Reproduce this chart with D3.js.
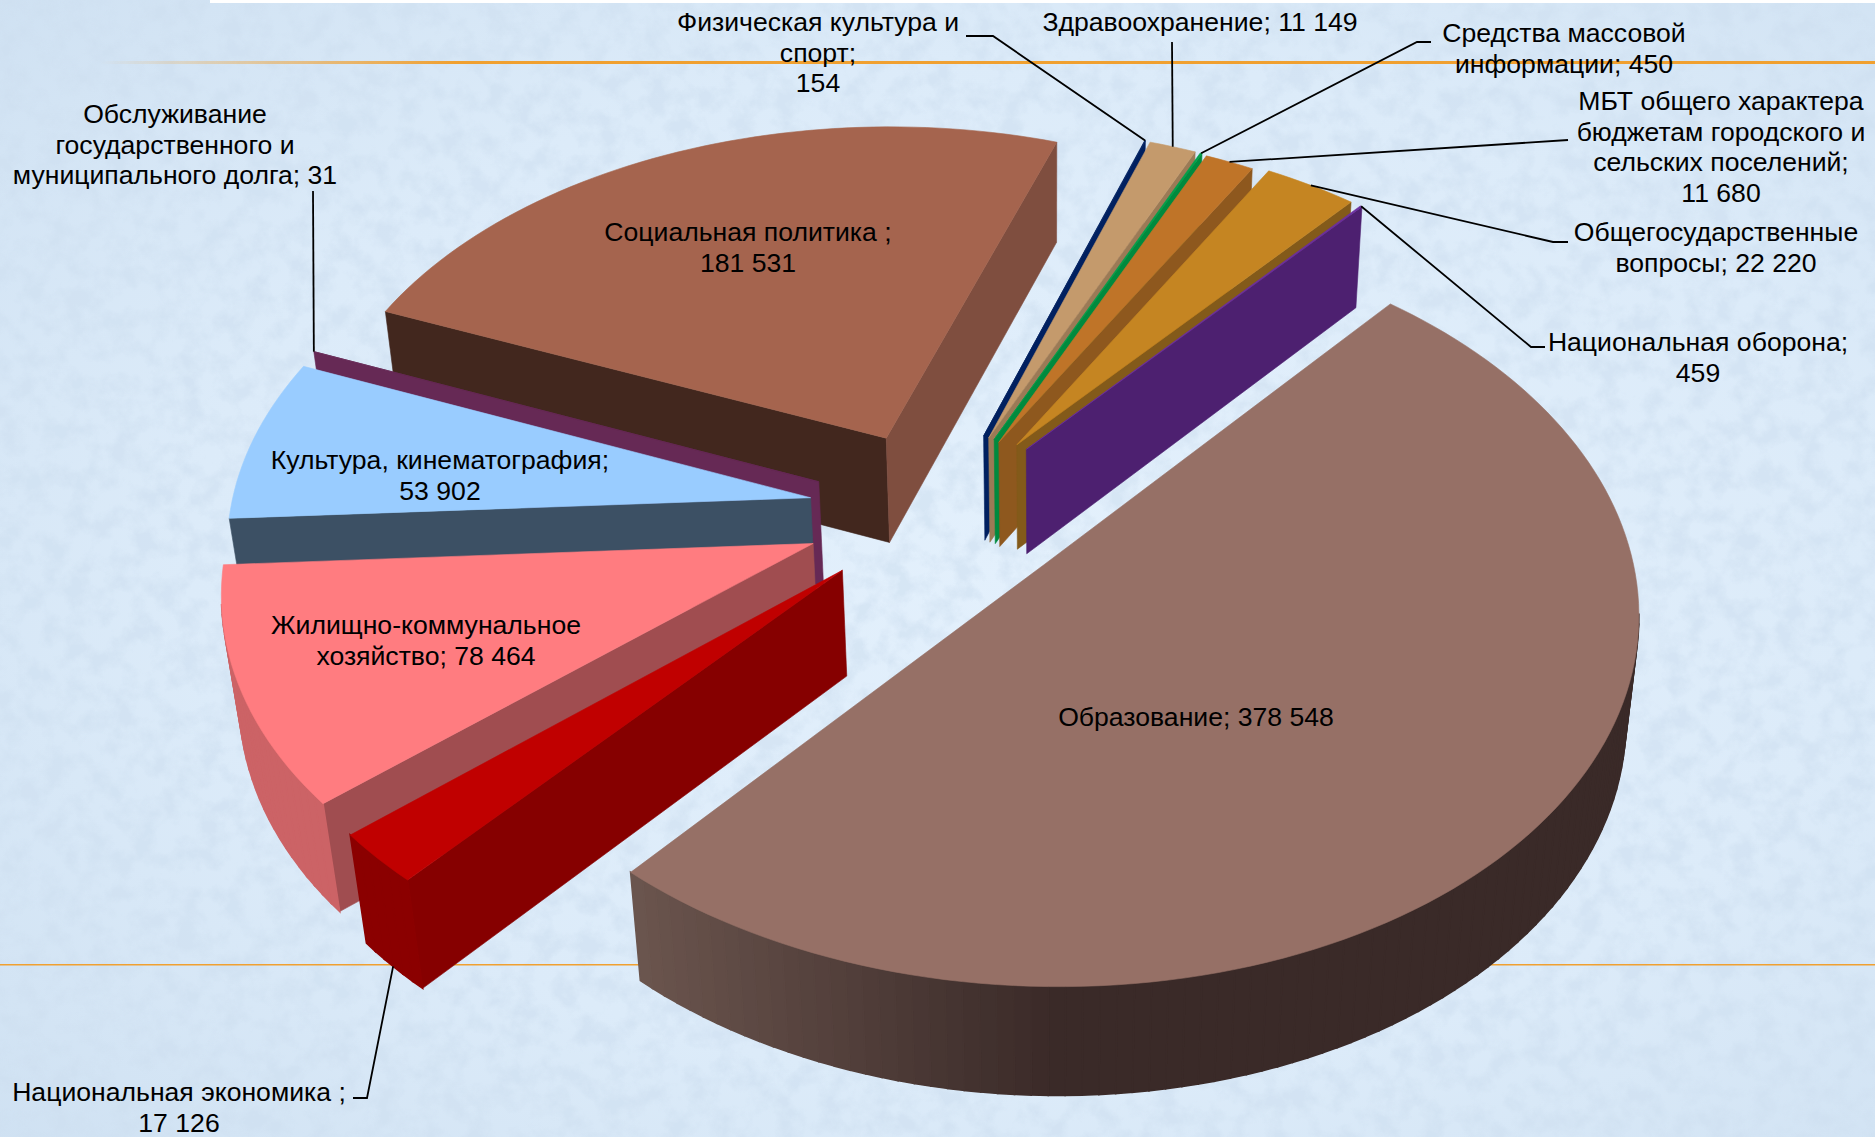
<!DOCTYPE html>
<html><head><meta charset="utf-8">
<script src="https://d3js.org/d3.v7.min.js"></script>
<style>html,body{margin:0;padding:0;overflow:hidden;background:#dcebf8}svg{display:block}</style>
</head><body><svg id="c" width="1875" height="1137"></svg>
<script>
// ---- data, clockwise starting at the far edge of the largest slice
const categories = ["Образование","Национальная экономика","Жилищно-коммунальное хозяйство","Культура, кинематография","Обслуживание долга","Социальная политика","Физическая культура и спорт","Здравоохранение","Средства массовой информации","МБТ","Общегосударственные вопросы","Национальная оборона"];
const values = [378548,17126,78464,53902,31,181531,154,11149,450,11680,22220,459];
// ---- slice styling
const explode = [.244,.230,.227,.221,.2215,.215,.22,.218,.218,.214,.224,.224];
const nudgeX = [0,.004,0,0,0,0,.012,.012,.012,.012,.012,.012];
const nudgeY = [0,.015,.02,.016,.019,.006,.012,.012,.012,.012,.012,.012];
const topColors = ["#967066","#C00000","#FF7C80","#99CCFF","#662955","#A5644E","#002060","#C49A6C","#00A04A","#BF7428","#C58522","#6B2FA0"];
const startWall = ["#6b554e","#860000","#A04D50","#3C5064","#662955","#42271E","#002060","#9B7A56","#008A3E","#8E581E","#835A1A","#4D2070"];
const endWall = ["#3a2a28","#860000","#A04D50","#3C5064","#662955","#7F4E3F","#002060","#9B7A56","#008A3E","#8E581E","#835A1A","#4D2070"];
const outerLight = ["#6b554e","#8B0000","#CC6366","#3C5064","#662955","#7F4E3F","#002060","#9B7A56","#008A3E","#8E581E","#835A1A","#4D2070"];
const outerDark = ["#3a2a28","#8B0000","#CC6366","#3C5064","#662955","#7F4E3F","#002060","#9B7A56","#008A3E","#8E581E","#835A1A","#4D2070"];
const drawOrder = [5,6,7,8,9,10,11,4,3,2,1,0];
// ---- labels
const labelText = [
 ["Физическая культура и","спорт;","154"],["Здравоохранение; 11 149"],["Средства массовой","информации; 450"],
 ["МБТ общего характера","бюджетам городского и","сельских поселений;","11 680"],["Общегосударственные","вопросы; 22 220"],
 ["Национальная оборона;","459"],["Образование; 378 548"],["Жилищно-коммунальное","хозяйство; 78 464"],
 ["Культура, кинематография;","53 902"],["Социальная политика ;","181 531"],
 ["Обслуживание","государственного и","муниципального долга; 31"],["Национальная экономика ;","17 126"]];
const labelX = [818,1200,1564,1721,1716,1698,1196,426,440,748,175,179];
const labelY = [22,22,33,101,232,342,717,625,460,232,114,1092];
const leaderSlice = [6,7,8,9,10,11,-1,-1,-1,-1,4,1];
const leaderBase = [0,0,0,0,0,0,0,0,0,0,0,1];
const leaderAnchor = [[[966,36],[993,36]],[[1172,42]],[[1431,42],[1417,42]],[[1568,140]],[[1568,242],[1553,242]],[[1545,347],[1531,347]],null,null,null,null,[[313,191]],[[353,1098],[367,1098]]];

const W=1875,H=1137, svg=d3.select("#c");
const defs=svg.append("defs");
// ---- paper texture
const rg=defs.append("radialGradient").attr("id","paper").attr("cx","55%").attr("cy","50%").attr("r","75%");
rg.append("stop").attr("offset","0%").attr("stop-color","#E3F0FC");
rg.append("stop").attr("offset","60%").attr("stop-color","#DCEBF9");
rg.append("stop").attr("offset","100%").attr("stop-color","#CFE1F2");
const f=defs.append("filter").attr("id","mottle").attr("x",0).attr("y",0).attr("width","100%").attr("height","100%");
f.append("feTurbulence").attr("type","fractalNoise").attr("baseFrequency","0.045").attr("numOctaves",6).attr("seed",7);
f.append("feColorMatrix").attr("type","matrix").attr("values","0 0 0 0 0.62  0 0 0 0 0.74  0 0 0 0 0.87  3.2 0 0 0 -1.25");
svg.append("rect").attr("width",W).attr("height",H).attr("fill","url(#paper)");
svg.append("rect").attr("width",W).attr("height",H).attr("filter","url(#mottle)").attr("opacity",.55);
svg.append("rect").attr("x",210).attr("width",W-210).attr("height",3).attr("fill","#fff");
const lg=defs.append("linearGradient").attr("id","rule");
lg.append("stop").attr("offset","0").attr("stop-color","#F0A030").attr("stop-opacity",0);
lg.append("stop").attr("offset","0.2").attr("stop-color","#F0A030").attr("stop-opacity",1);
lg.append("stop").attr("offset","1").attr("stop-color","#F0A030");
svg.append("rect").attr("x",100).attr("y",61).attr("width",W-100).attr("height",3).attr("fill","url(#rule)");
svg.append("rect").attr("x",0).attr("y",964).attr("width",W).attr("height",1.5).attr("fill","#F0A030");

// ---- camera: the pie's top plane and its extruded base
const ox=1045,oy=564,fx=589,fy=374,persp=.115,sink=.022,drop=108,shearX=8,shearY=3;
const centre=[-.1854,-.1586];
const rad=d=>d*Math.PI/180;
const project=(X,Y,z)=>{const d=1-persp*Y+sink*z;return [ox+(fx*X+shearX*Y)/d, oy+(fy*Y+shearY*X+drop*z)/d];};
const camera=[0,1/persp];
const dirOf=t=>[Math.sin(t),-Math.cos(t)];
const line=d3.line();
const arcs=d3.pie().sort(null).startAngle(rad(40.4)).endAngle(rad(400.4))(values);

const geo=arcs.map((a,i)=>{
  const mid=(a.startAngle+a.endAngle)/2, m=dirOf(mid);
  return {a0:a.startAngle,a1:a.endAngle,mid,ap:[centre[0]+explode[i]*m[0]+nudgeX[i],centre[1]+explode[i]*m[1]+nudgeY[i]]};
});
const rim=(g,t)=>{const d=dirOf(t);return [g.ap[0]+d[0],g.ap[1]+d[1]];};
const faces=(n,p)=>n[0]*(camera[0]-p[0])+n[1]*(camera[1]-p[1])>0;
const poly=(pts,fill,g,sw)=>g.append("path").attr("d",line(pts)+"Z").attr("fill",fill).attr("stroke",fill).attr("stroke-width",sw||.6);

drawOrder.forEach(i=>{
  const s=geo[i], g=svg.append("g").attr("data-cat",categories[i]);
  const wall=(t,n,col)=>{ if(!faces(n,s.ap))return; const r=rim(s,t);
    poly([project(...s.ap,0),project(...r,0),project(...r,1),project(...s.ap,1)],col,g);};
  wall(s.a0,[-Math.cos(s.a0),-Math.sin(s.a0)],startWall[i]);
  wall(s.a1,[Math.cos(s.a1),Math.sin(s.a1)],endWall[i]);
  const N=Math.max(1,Math.ceil((s.a1-s.a0)/rad(1.5)));
  const ts=d3.range(N+1).map(k=>s.a0+(s.a1-s.a0)*k/N);
  const mix=d3.interpolateRgb(outerLight[i],outerDark[i]);
  d3.pairs(ts).forEach(([t0,t1])=>{
    const tm=(t0+t1)/2,n=dirOf(tm);
    if(!faces(n,rim(s,tm)))return;
    const k=Math.max(0,Math.min(1,(n[0]+.65)/.65));
    const p0=rim(s,t0),p1=rim(s,t1);
    poly([project(...p0,0),project(...p1,0),project(...p1,1),project(...p0,1)],mix(k),g,1.6);
  });
  const top=[project(...s.ap,0),...ts.map(t=>project(...rim(s,t),0))];
  poly(top,topColors[i],g);
});

// ---- leaders
leaderAnchor.forEach((anchor,i)=>{
  if(!anchor)return;
  const s=geo[leaderSlice[i]], end=project(...rim(s,s.mid),leaderBase[i]);
  svg.append("path").attr("d",line([...anchor,end])).attr("fill","none").attr("stroke","#000").attr("stroke-width",1.8);
});
// ---- labels
const lh=30.5;
labelText.forEach((lines,i)=>{
  const t=svg.append("text").attr("text-anchor","middle").attr("font-family","'Liberation Sans',Arial,sans-serif").attr("font-size",26.6).attr("fill","#000");
  lines.forEach((l,k)=>t.append("tspan").attr("x",labelX[i]).attr("y",labelY[i]+k*lh+9).text(l));
});
</script></body></html>
